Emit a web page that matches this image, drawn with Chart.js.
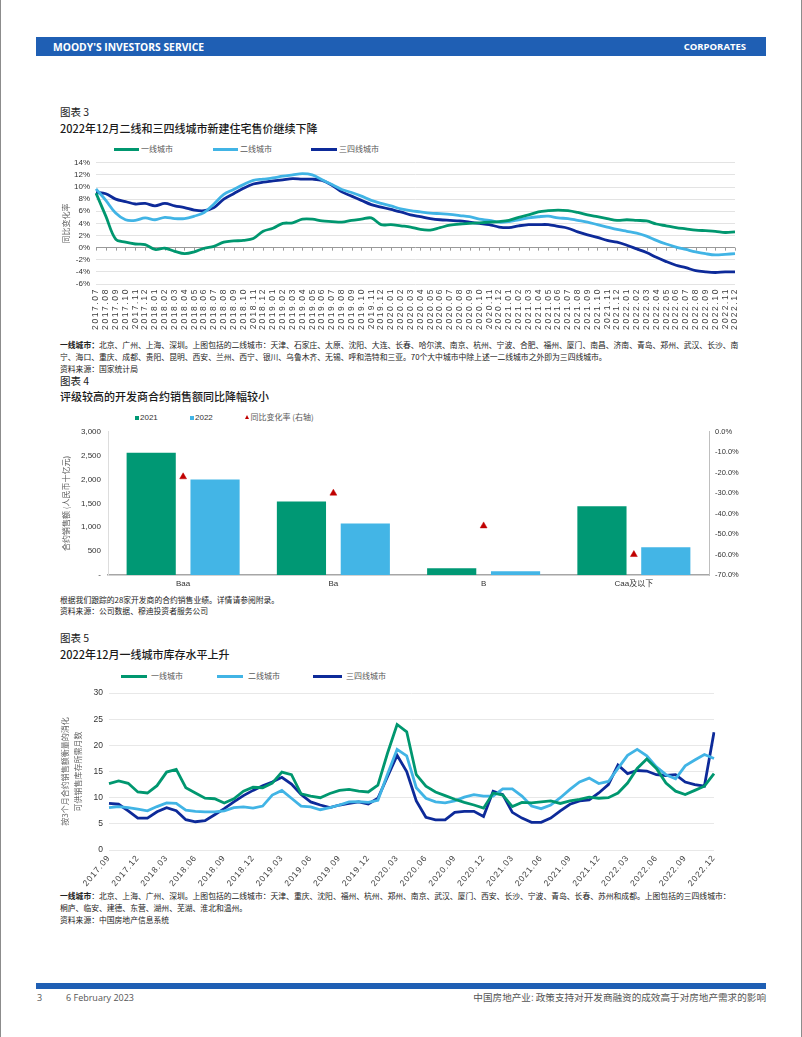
<!DOCTYPE html>
<html>
<head>
<meta charset="utf-8">
<script src="https://cdn.jsdelivr.net/npm/chart.js@4.4.0/dist/chart.umd.min.js"></script>
<style>
  body { margin: 0; width: 802px; height: 1037px; position: relative; background: #fff; overflow: hidden;
         font-family: "Noto Sans CJK SC", sans-serif; color: #1a1a1a; }
  .t { position: absolute; white-space: nowrap; line-height: 1; }
  .edge { position: absolute; top: 0; width: 1px; height: 1037px; background: #8c8c8c; }
  .bar { position: absolute; left: 36px; width: 730px; background: #1f5fb4; }
  .hd { color: #fff; font-family: "Open Sans", sans-serif; font-weight: 700; font-size: 9.5px; top: 42px; }
  .fig { font-size: 10.5px; left: 60px; }
  .ttl { font-size: 11px; left: 60px; font-weight: 500; }
  .note { font-size: 7.8px; left: 60px; color: #222; }
  .note b { font-weight: 700; }
  .lg { font-size: 8px; color: #595959; }
  .sw { position: absolute; height: 3px; }
  .sq { position: absolute; width: 4px; height: 4px; }
  canvas { position: absolute; }
</style>
</head>
<body>
<div class="edge" style="left:0"></div>
<div class="edge" style="left:801px"></div>

<div class="bar" style="top:37px;height:19px"></div>
<div class="t hd" style="left:53px;font-size:10.3px;top:41.5px">MOODY'S INVESTORS SERVICE</div>
<div class="t hd" style="right:56px">CORPORATES</div>

<!-- chart 3 -->
<div class="t fig" style="top:107px">图表 3</div>
<div class="t ttl" style="top:123px">2022年12月二线和三四线城市新建住宅售价继续下降</div>
<div class="sw" style="left:114px;top:148px;width:25px;background:#00976f"></div>
<div class="t lg" style="left:141px;top:144.6px">一线城市</div>
<div class="sw" style="left:213px;top:148px;width:25px;background:#41b4e5"></div>
<div class="t lg" style="left:240px;top:144.6px">二线城市</div>
<div class="sw" style="left:311px;top:148px;width:26px;background:#0d2a99"></div>
<div class="t lg" style="left:339px;top:144.6px">三四线城市</div>
<canvas id="priceChart" width="703" height="183" style="left:57px;top:152px"></canvas>
<div class="t note" style="top:341px"><b>一线城市：</b>北京、广州、上海、深圳。上图包括的二线城市：天津、石家庄、太原、沈阳、大连、长春、哈尔滨、南京、杭州、宁波、合肥、福州、厦门、南昌、济南、青岛、郑州、武汉、长沙、南</div>
<div class="t note" style="top:353px">宁、海口、重庆、成都、贵阳、昆明、西安、兰州、西宁、银川、乌鲁木齐、无锡、呼和浩特和三亚。70个大中城市中除上述一二线城市之外即为三四线城市。</div>
<div class="t note" style="top:365px">资料来源：国家统计局</div>

<!-- chart 4 -->
<div class="t fig" style="top:376px">图表 4</div>
<div class="t ttl" style="top:391px">评级较高的开发商合约销售额同比降幅较小</div>
<div class="sq" style="left:135px;top:415.7px;background:#009874"></div>
<div class="t lg" style="left:140px;top:413.8px;color:#333;font-family:'Liberation Sans',sans-serif">2021</div>
<div class="sq" style="left:190px;top:415.7px;background:#43b5e6"></div>
<div class="t lg" style="left:195px;top:413.8px;color:#333;font-family:'Liberation Sans',sans-serif">2022</div>
<div style="position:absolute;left:244.5px;top:415px;width:0;height:0;border-left:2.5px solid transparent;border-right:2.5px solid transparent;border-bottom:4.5px solid #c00000"></div>
<div class="t lg" style="left:250.5px;top:413.3px">同比变化率 (右轴)</div>
<canvas id="salesChart" width="703" height="173" style="left:57px;top:420px"></canvas>
<div class="t note" style="top:595.7px">根据我们跟踪的28家开发商的合约销售业绩。详情请参阅附录。</div>
<div class="t note" style="top:606.7px">资料来源：公司数据、穆迪投资者服务公司</div>

<!-- chart 5 -->
<div class="t fig" style="top:633px">图表 5</div>
<div class="t ttl" style="top:648.5px">2022年12月一线城市库存水平上升</div>
<div class="sw" style="left:121px;top:675.3px;width:26px;background:#00976f"></div>
<div class="t lg" style="left:151px;top:672.3px">一线城市</div>
<div class="sw" style="left:217px;top:675.3px;width:26px;background:#41b4e5"></div>
<div class="t lg" style="left:248px;top:672.3px">二线城市</div>
<div class="sw" style="left:313px;top:675.3px;width:29px;background:#0d2a99"></div>
<div class="t lg" style="left:346px;top:672.3px">三四线城市</div>
<canvas id="stockChart" width="705" height="205" style="left:55px;top:682px"></canvas>
<div class="t note" style="top:891.7px"><b>一线城市</b>：北京、上海、广州、深圳。上图包括的二线城市：天津、重庆、沈阳、福州、杭州、郑州、南京、武汉、厦门、西安、长沙、宁波、青岛、长春、苏州和成都。上图包括的三四线城市：</div>
<div class="t note" style="top:903.7px">桐庐、临安、建德、东营、湖州、芜湖、淮北和温州。</div>
<div class="t note" style="top:915.7px">资料来源：中国房地产信息系统</div>

<div class="bar" style="top:983px;height:6px"></div>
<div class="t" style="left:37px;top:993px;font-size:9px;color:#555;font-family:'Open Sans',sans-serif">3</div>
<div class="t" style="left:66px;top:993px;font-size:9px;color:#555;font-family:'Open Sans',sans-serif">6 February 2023</div>
<div class="t" style="right:36px;top:993px;font-size:9.6px;color:#555">中国房地产业: 政策支持对开发商融资的成效高于对房地产需求的影响</div>

<script>
// ---- chart 3: new home price, yoy % ----
const priceMonths = [
  '2017.07','2017.08','2017.09','2017.10','2017.11','2017.12',
  '2018.01','2018.02','2018.03','2018.04','2018.05','2018.06','2018.07','2018.08','2018.09','2018.10','2018.11','2018.12',
  '2019.01','2019.02','2019.03','2019.04','2019.05','2019.06','2019.07','2019.08','2019.09','2019.10','2019.11','2019.12',
  '2020.01','2020.02','2020.03','2020.04','2020.05','2020.06','2020.07','2020.08','2020.09','2020.10','2020.11','2020.12',
  '2021.01','2021.02','2021.03','2021.04','2021.05','2021.06','2021.07','2021.08','2021.09','2021.10','2021.11','2021.12',
  '2022.01','2022.02','2022.03','2022.04','2022.05','2022.06','2022.07','2022.08','2022.09','2022.10','2022.11','2022.12'
];
const tier1Price = [
  9.0, 5.2, 1.4, 0.9, 0.6, 0.5,
  -0.3, -0.1, -0.6, -1.0, -0.7, -0.1, 0.2, 0.9, 1.1, 1.2, 1.5, 2.7,
  3.2, 4.0, 4.1, 4.7, 4.7, 4.4, 4.3, 4.2, 4.5, 4.7, 4.9, 3.8,
  3.8, 3.6, 3.4, 3.0, 2.9, 3.3, 3.7, 3.9, 4.0, 4.1, 4.2, 4.3,
  4.5, 5.0, 5.4, 5.9, 6.1, 6.2, 6.1, 5.8, 5.4, 5.1, 4.8, 4.5,
  4.6, 4.5, 4.4, 3.9, 3.6, 3.3, 3.1, 2.9, 2.8, 2.7, 2.5, 2.6
];
const tier2Price = [
  9.7, 7.8, 5.7, 4.6, 4.5, 4.9,
  4.6, 5.0, 4.8, 4.8, 5.2, 5.8, 7.2, 8.8, 9.6, 10.4, 11.1, 11.3,
  11.5, 11.8, 12.0, 12.2, 12.0, 11.2, 10.4, 9.6, 9.1, 8.5, 7.8, 7.3,
  6.9, 6.4, 6.1, 5.9, 5.7, 5.6, 5.5, 5.3, 5.1, 4.7, 4.5, 4.2,
  4.3, 4.6, 4.9, 5.1, 5.2, 4.9, 4.8, 4.5, 4.2, 3.8, 3.4, 3.0,
  2.7, 2.4, 1.9, 1.2, 0.6, 0.1, -0.3, -0.7, -1.0, -1.2, -1.1, -1.0
];
const tier3Price = [
  9.1, 8.9, 8.0, 7.6, 7.2, 7.3,
  6.9, 7.3, 6.9, 6.6, 6.2, 6.1, 6.6, 8.0, 8.9, 9.8, 10.5, 10.8,
  11.0, 11.2, 11.4, 11.3, 11.3, 11.1, 10.3, 9.2, 8.5, 7.8, 7.1, 6.7,
  6.3, 5.9, 5.4, 5.1, 4.8, 4.6, 4.5, 4.4, 4.2, 4.0, 3.8, 3.4,
  3.3, 3.6, 3.8, 3.8, 3.8, 3.5, 3.2, 2.6, 2.1, 1.7, 1.2, 0.9,
  0.4, -0.2, -0.8, -1.6, -2.3, -2.9, -3.3, -3.8, -4.0, -4.1, -4.0, -4.0
];

// ---- chart 4: contracted sales by rating ----
const ratings = ['Baa', 'Ba', 'B', 'Caa及以下'];
const sales2021 = [2560, 1540, 140, 1440];
const sales2022 = [2000, 1080, 80, 580];
const salesChange = [-22, -30, -46, -60];

// ---- chart 5: months of inventory ----
const stockMonths = [
  '2017.09','2017.10','2017.11','2017.12',
  '2018.01','2018.02','2018.03','2018.04','2018.05','2018.06','2018.07','2018.08','2018.09','2018.10','2018.11','2018.12',
  '2019.01','2019.02','2019.03','2019.04','2019.05','2019.06','2019.07','2019.08','2019.09','2019.10','2019.11','2019.12',
  '2020.01','2020.02','2020.03','2020.04','2020.05','2020.06','2020.07','2020.08','2020.09','2020.10','2020.11','2020.12',
  '2021.01','2021.02','2021.03','2021.04','2021.05','2021.06','2021.07','2021.08','2021.09','2021.10','2021.11','2021.12',
  '2022.01','2022.02','2022.03','2022.04','2022.05','2022.06','2022.07','2022.08','2022.09','2022.10','2022.11','2022.12'
];
const tier1Stock = [
  12.7, 13.2, 12.75, 11.1, 10.9, 12.3, 14.9, 15.4,
  11.9, 10.9, 9.9, 9.8, 9.0, 9.8, 11.25, 12.0,
  11.9, 12.8, 14.9, 14.4, 10.75, 10.3, 10.0, 10.8,
  11.4, 11.6, 11.25, 11.1, 12.4, 18.5, 24.0, 22.6,
  14.4, 12.2, 11.1, 10.4, 9.7, 9.1, 8.6, 8.0,
  10.9, 10.5, 8.3, 9.1, 9.0, 9.2, 9.4, 8.9,
  9.4, 9.7, 10.1, 9.9, 10.0, 10.9, 12.8, 15.6,
  17.4, 15.6, 12.8, 11.25, 10.6, 11.4, 12.2, 14.6
];
const tier2Stock = [
  8.1, 8.3, 8.1, 7.8, 7.5, 8.3, 9.0, 8.9,
  7.6, 7.4, 7.3, 7.3, 7.5, 8.1, 8.25, 8.0,
  8.4, 10.5, 11.4, 9.9, 8.4, 8.25, 7.7, 8.1,
  8.6, 9.2, 9.25, 9.1, 9.5, 14.5, 19.25, 18.0,
  11.9, 9.9, 9.2, 9.0, 9.4, 10.1, 10.6, 10.3,
  10.3, 11.7, 11.7, 10.3, 8.4, 7.9, 8.6, 10.0,
  11.6, 13.0, 13.75, 12.7, 13.1, 15.6, 18.1, 19.25,
  18.0, 15.9, 14.4, 13.6, 16.1, 17.2, 18.25, 17.5
];
const tier3Stock = [
  8.9, 8.75, 7.5, 6.1, 6.1, 7.3, 8.1, 7.5,
  5.8, 5.4, 5.6, 6.75, 7.9, 9.2, 10.4, 11.4,
  12.3, 13.0, 13.9, 12.6, 10.6, 9.2, 8.6, 8.1,
  8.6, 8.9, 9.2, 8.8, 9.9, 14.0, 18.1, 15.0,
  9.4, 6.25, 5.75, 5.75, 7.2, 7.4, 7.4, 6.4,
  11.25, 10.6, 7.2, 6.1, 5.3, 5.3, 6.1, 7.5,
  8.75, 9.4, 9.6, 10.9, 12.5, 16.25, 14.6, 15.2,
  15.1, 14.4, 14.25, 14.4, 13.0, 12.5, 12.2, 22.5
];

const GREEN = '#00976f', LIGHT = '#41b4e5', NAVY = '#0d2a99';
const TICK_FONT = "'Liberation Sans', 'Noto Sans CJK SC', sans-serif";
const CJK_FONT = "'Noto Sans CJK SC', sans-serif";

Chart.defaults.font.family = TICK_FONT;
Chart.defaults.animation = false;
Chart.defaults.responsive = false;
Chart.defaults.plugins.legend.display = false;
Chart.defaults.plugins.tooltip.enabled = false;

// small tick marks hanging under the 0% line
const zeroTicks = {
  id: 'zeroTicks',
  beforeDatasetsDraw(chart) {
    const { ctx, scales: { x, y } } = chart;
    const y0 = y.getPixelForValue(0);
    ctx.save();
    ctx.strokeStyle = '#9a9a9a';
    ctx.lineWidth = 1;
    x.ticks.forEach((t, i) => {
      const px = Math.round(x.getPixelForTick(i)) + 0.5;
      ctx.beginPath();
      ctx.moveTo(px, y0);
      ctx.lineTo(px, y0 + 3);
      ctx.stroke();
    });
    ctx.restore();
  }
};

// x labels are drawn after the datasets (ticks.z = 1), spaced out like the original
const spacedLabels = {
  id: 'spacedLabels',
  afterDatasetsDraw(chart, args, opts) { chart.ctx.letterSpacing = opts.spacing || '0px'; },
  afterDraw(chart) { chart.ctx.letterSpacing = '0px'; }
};

function lineSet(label, data, color) {
  return { label, data, borderColor: color, backgroundColor: color, borderWidth: 2.8, pointRadius: 0 };
}

new Chart(document.getElementById('priceChart'), {
  type: 'line',
  data: {
    labels: priceMonths,
    datasets: [
      lineSet('一线城市', tier1Price, GREEN),
      lineSet('二线城市', tier2Price, LIGHT),
      lineSet('三四线城市', tier3Price, NAVY)
    ]
  },
  options: {
    layout: { padding: { top: 8, right: 25, bottom: 0, left: 0 } },
    elements: { line: { tension: 0.35 } },
    plugins: { spacedLabels: { spacing: '1.6px' } },
    scales: {
      x: {
        grid: { display: false, drawTicks: false },
        border: { display: false },
        ticks: { autoSkip: false, minRotation: 90, maxRotation: 90, padding: 4, z: 1,
                 color: '#404040', font: { size: 8.5 } },
        afterFit(s) { s.height = 51; }
      },
      y: {
        min: -6, max: 14,
        grid: { drawTicks: false, color: c => c.tick.value === 0 ? '#9a9a9a' : '#e3e3e3' },
        border: { display: false },
        ticks: { stepSize: 2, autoSkip: false, padding: 6, color: '#333', font: { size: 8 },
                 callback: v => v + '%' },
        title: { display: true, text: '同比变化率', color: '#666', padding: { top: 4, bottom: 4 },
                 font: { size: 8, family: CJK_FONT } },
        afterFit(s) { s.width = 39; }
      }
    }
  },
  plugins: [zeroTicks, spacedLabels]
});

new Chart(document.getElementById('salesChart'), {
  type: 'bar',
  data: {
    labels: ratings,
    datasets: [
      { label: '2021', data: sales2021, backgroundColor: '#009874', yAxisID: 'y',
        barPercentage: 0.77, categoryPercentage: 0.85, order: 2 },
      { label: '2022', data: sales2022, backgroundColor: '#43b5e6', yAxisID: 'y',
        barPercentage: 0.77, categoryPercentage: 0.85, order: 2 },
      { type: 'line', label: '同比变化率 (右轴)', data: salesChange, yAxisID: 'y1', showLine: false,
        pointStyle: 'triangle', pointRadius: 4, pointBorderWidth: 0.5,
        pointBackgroundColor: '#c00000', pointBorderColor: '#c00000', order: 1 }
    ]
  },
  options: {
    layout: { padding: { top: 9, right: 0, bottom: 0, left: 0 } },
    scales: {
      x: {
        grid: { display: false, drawTicks: false },
        border: { color: '#a6a6a6', width: 1.5 },
        ticks: { padding: 4, color: '#333', font: { size: 8 } },
        afterFit(s) { s.height = 18; }
      },
      y: {
        position: 'left', min: 0, max: 3000,
        grid: { display: false, drawTicks: false },
        border: { color: '#dddddd' },
        ticks: { stepSize: 500, autoSkip: false, padding: 7, color: '#333', font: { size: 8 },
                 callback: v => v === 0 ? '-' : v.toLocaleString('en-US') },
        title: { display: true, text: '合约销售额 (人民币十亿元)', color: '#595959', padding: { top: 4, bottom: 4 },
                 font: { size: 8, family: CJK_FONT } },
        afterFit(s) { s.width = 51; }
      },
      y1: {
        position: 'right', min: -70, max: 0,
        grid: { display: false, drawTicks: false },
        border: { color: '#bfbfbf' },
        ticks: { stepSize: 10, autoSkip: false, padding: 6, color: '#333', font: { size: 7.5 },
                 callback: v => v.toFixed(1) + '%' },
        afterFit(s) { s.width = 51; }
      }
    }
  }
});

new Chart(document.getElementById('stockChart'), {
  type: 'line',
  data: {
    labels: stockMonths,
    datasets: [
      lineSet('一线城市', tier1Stock, GREEN),
      lineSet('二线城市', tier2Stock, LIGHT),
      lineSet('三四线城市', tier3Stock, NAVY)
    ]
  },
  options: {
    layout: { padding: { top: 9, right: 46, bottom: 0, left: 0 } },
    elements: { line: { tension: 0 } },
    plugins: { spacedLabels: { spacing: '1px' } },
    scales: {
      x: {
        grid: { display: false, drawTicks: false },
        border: { display: false },
        ticks: { autoSkip: false, minRotation: 50, maxRotation: 50, padding: 3, z: 1,
                 color: '#404040', font: { size: 8.5 },
                 callback: (v, i) => i % 3 === 0 ? stockMonths[i] : '' },
        afterFit(s) { s.height = 37; }
      },
      y: {
        min: 0, max: 30,
        grid: { drawTicks: false, color: '#e8e8e8' },
        border: { display: false },
        ticks: { stepSize: 5, autoSkip: false, padding: 6, color: '#333', font: { size: 8.5 } },
        title: { display: true, text: ['按3个月合约销售额衡量的消化', '可供销售库存所需月数'], color: '#666',
                 padding: { top: 4, bottom: 4 }, font: { size: 8, family: CJK_FONT, lineHeight: 1.6 } },
        afterFit(s) { s.width = 54; }
      }
    }
  },
  plugins: [spacedLabels]
});
</script>
</body>
</html>
